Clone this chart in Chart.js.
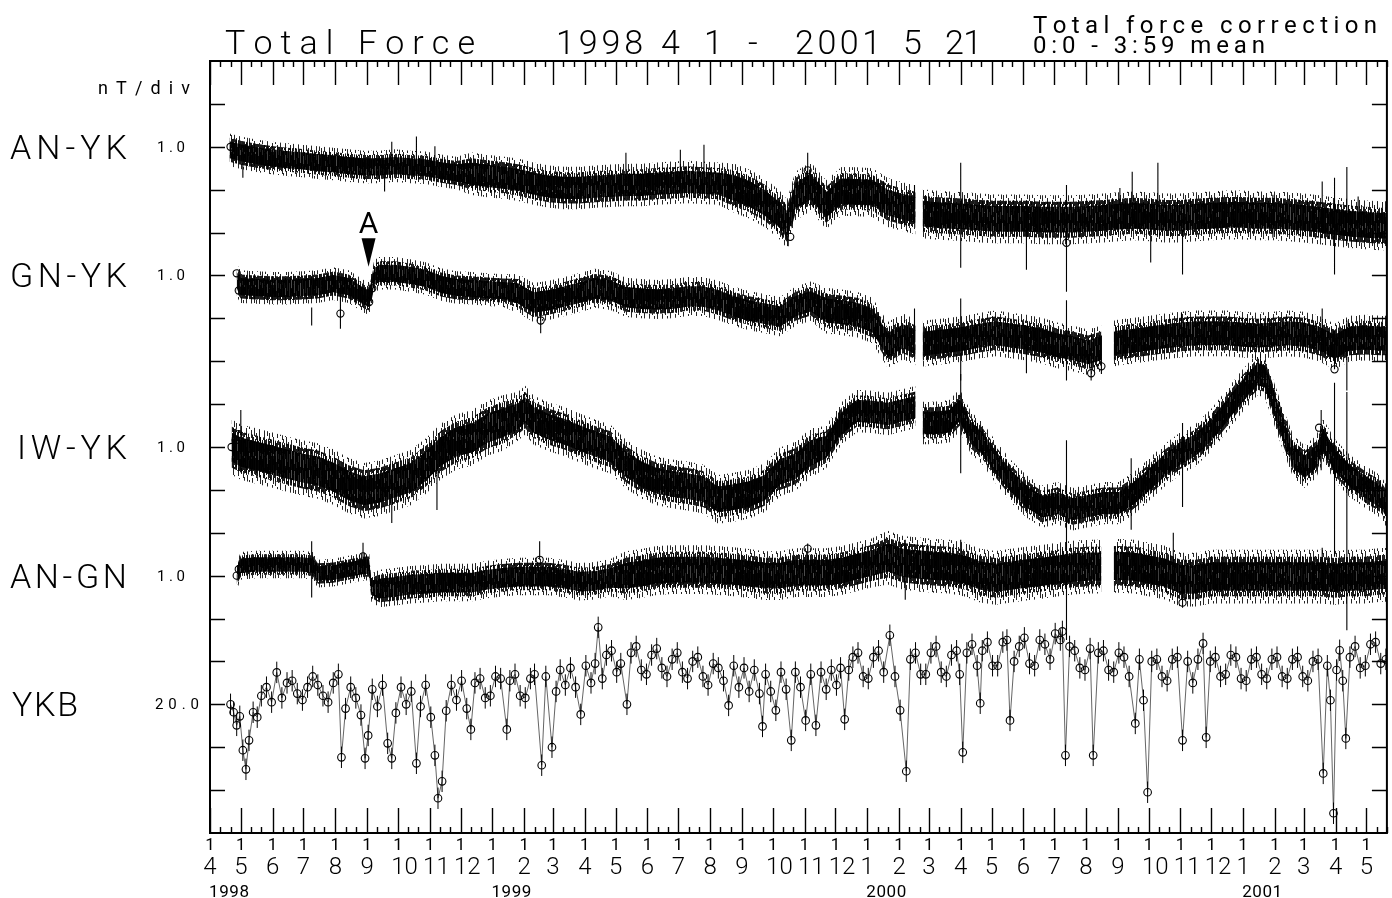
<!DOCTYPE html>
<html><head><meta charset="utf-8">
<script src="https://cdn.jsdelivr.net/npm/chart.js@4/dist/chart.umd.min.js"></script>
<style>html,body{margin:0;padding:0;background:#fff;}#wrap{width:1392px;height:898px;}</style>
</head><body><div id="wrap"><canvas id="c" width="1392" height="898"></canvas></div>
<script>
// ---- time axis (days since 1998-04-01) ----
const START = Date.UTC(1998, 3, 1);
function dayOf(y, m, d) { return Math.round((Date.UTC(y, m - 1, d) - START) / 86400000); }
const X_MAX = dayOf(2001, 5, 21);

const monthTicks = [], monthLabels = [], minorTicks = [];
for (let y = 1998, m = 4; y < 2001 || (y === 2001 && m <= 5); ) {
  monthTicks.push(dayOf(y, m, 1)); monthLabels.push(String(m));
  [11, 21].forEach(dd => { const v = dayOf(y, m, dd); if (v <= X_MAX) minorTicks.push(v); });
  m++; if (m > 12) { m = 1; y++; }
}
const yearLabels = ['1998', '1999', '2000', '2001'];
const yearDays = [0, dayOf(1999, 1, 1), dayOf(2000, 1, 1), dayOf(2001, 1, 1)];

// ---- series: [day, value] ; values in nT (1.0 nT/div for differences, 20 nT/div for YKB) ----
const anykData = [[19,-0.07],[30,-0.14],[45,-0.21],[60,-0.26],[75,-0.30],[90,-0.33],[105,-0.37],[120,-0.40],[135,-0.44],[150,-0.47],[165,-0.47],[180,-0.44],[195,-0.47],[210,-0.49],[225,-0.56],[240,-0.61],[255,-0.63],[270,-0.68],[285,-0.72],[300,-0.77],[315,-0.86],[330,-0.93],[345,-0.96],[360,-0.96],[375,-0.93],[390,-0.91],[405,-0.89],[420,-0.89],[435,-0.86],[450,-0.84],[465,-0.82],[480,-0.84],[495,-0.86],[510,-0.96],[525,-1.10],[540,-1.30],[555,-1.60],[562,-1.80],[570,-1.15],[585,-0.93],[600,-1.35],[615,-1.04],[630,-1.05],[645,-1.07],[660,-1.30],[675,-1.40],[687,-1.47],[690,null],[694,-1.56],[705,-1.59],[720,-1.61],[735,-1.63],[750,-1.66],[765,-1.68],[780,-1.68],[795,-1.68],[810,-1.70],[825,-1.70],[840,-1.70],[855,-1.68],[870,-1.66],[885,-1.63],[900,-1.61],[915,-1.63],[930,-1.66],[945,-1.66],[960,-1.63],[975,-1.61],[990,-1.59],[1005,-1.59],[1020,-1.61],[1035,-1.61],[1050,-1.63],[1065,-1.66],[1080,-1.70],[1095,-1.75],[1110,-1.79],[1125,-1.82],[1140,-1.84],[1146,-1.84]];
const gnykData = [[26,-0.12],[30,-0.26],[45,-0.28],[60,-0.30],[75,-0.30],[90,-0.28],[105,-0.26],[120,-0.19],[135,-0.26],[150,-0.49],[155,-0.54],[160,-0.02],[165,0.05],[180,0.05],[195,0.0],[210,-0.07],[225,-0.21],[240,-0.28],[255,-0.30],[270,-0.33],[285,-0.35],[300,-0.42],[315,-0.63],[330,-0.58],[345,-0.49],[360,-0.40],[375,-0.30],[390,-0.35],[405,-0.51],[420,-0.54],[435,-0.56],[450,-0.54],[465,-0.49],[480,-0.49],[495,-0.58],[510,-0.72],[525,-0.82],[540,-0.89],[555,-0.96],[570,-0.72],[585,-0.60],[600,-0.82],[615,-0.86],[630,-0.91],[645,-1.05],[660,-1.62],[675,-1.42],[687,-1.56],[690,null],[694,-1.59],[705,-1.56],[720,-1.52],[735,-1.47],[750,-1.40],[765,-1.35],[780,-1.40],[795,-1.45],[810,-1.52],[825,-1.63],[840,-1.70],[855,-1.79],[868,-1.70],[874,null],[880,-1.59],[885,-1.56],[900,-1.52],[915,-1.47],[930,-1.42],[945,-1.38],[960,-1.35],[975,-1.35],[990,-1.35],[1005,-1.38],[1020,-1.40],[1035,-1.38],[1050,-1.35],[1065,-1.38],[1080,-1.47],[1095,-1.66],[1110,-1.47],[1125,-1.45],[1140,-1.47],[1146,-1.47]];
const iwykData = [[21,0.0],[30,-0.12],[45,-0.21],[60,-0.30],[75,-0.40],[90,-0.49],[105,-0.56],[120,-0.70],[135,-0.90],[150,-1.02],[165,-0.96],[180,-0.84],[195,-0.72],[210,-0.45],[225,-0.10],[240,0.12],[255,0.21],[270,0.44],[285,0.56],[300,0.72],[307,0.86],[315,0.63],[330,0.47],[345,0.36],[360,0.21],[375,0.07],[390,-0.05],[405,-0.40],[420,-0.63],[435,-0.79],[450,-0.86],[465,-0.91],[480,-0.98],[495,-1.22],[510,-1.17],[525,-1.10],[540,-0.95],[555,-0.58],[570,-0.45],[585,-0.14],[600,0.0],[615,0.55],[630,0.84],[645,0.82],[660,0.77],[675,0.86],[687,0.93],[690,null],[694,0.56],[705,0.56],[720,0.60],[730,0.86],[741,0.33],[752,0.09],[765,-0.35],[780,-0.80],[795,-1.15],[810,-1.39],[825,-1.31],[840,-1.45],[855,-1.38],[870,-1.31],[885,-1.31],[900,-1.07],[915,-0.75],[930,-0.42],[945,-0.15],[960,0.05],[975,0.40],[990,0.84],[1005,1.30],[1020,1.70],[1027,1.65],[1035,1.10],[1045,0.40],[1055,-0.23],[1066,-0.46],[1077,-0.23],[1084,0.16],[1095,-0.30],[1110,-0.68],[1125,-0.93],[1140,-1.16],[1146,-1.39]];
const angnData = [[26,0.0],[30,0.23],[45,0.26],[60,0.26],[75,0.26],[90,0.26],[100,0.23],[105,0.05],[120,0.07],[135,0.14],[150,0.21],[155,0.21],[157,-0.28],[165,-0.30],[180,-0.26],[195,-0.21],[210,-0.19],[225,-0.16],[240,-0.16],[255,-0.16],[270,-0.09],[285,-0.05],[300,-0.02],[315,-0.02],[330,-0.02],[345,-0.07],[360,-0.14],[375,-0.12],[390,-0.05],[405,0.0],[420,0.05],[435,0.12],[450,0.14],[465,0.14],[480,0.14],[495,0.12],[510,0.09],[525,0.05],[540,0.0],[555,0.0],[570,0.07],[585,0.07],[600,0.07],[615,0.12],[630,0.21],[645,0.30],[660,0.42],[675,0.30],[690,0.26],[705,0.23],[720,0.21],[735,0.14],[750,0.0],[765,-0.05],[780,0.0],[795,0.05],[810,0.09],[825,0.14],[840,0.19],[855,0.21],[868,0.21],[874,null],[880,0.23],[885,0.23],[900,0.21],[915,0.14],[930,0.07],[945,-0.09],[960,-0.09],[975,-0.02],[990,-0.02],[1005,-0.02],[1020,-0.02],[1035,-0.02],[1050,-0.02],[1065,-0.02],[1080,-0.02],[1095,-0.05],[1110,-0.02],[1125,-0.02],[1140,0.02],[1146,0.02]];
const ykbData = [[20,0],[23,-3.7],[26,-9.8],[29,-5.6],[32,-21.4],[35,-30.3],[38,-16.8],[42,-3.7],[46,-6],[50,4],[55,8],[60,1],[65,14.9],[70,3],[75,10],[80,11],[85,5],[90,2],[95,8],[100,13],[105,9],[110,4],[115,1],[120,10],[125,14],[128,-24.7],[132,-2],[137,8],[142,3],[147,-5],[151,-25.2],[154,-14.5],[158,7],[163,-1],[168,9],[173,-18.2],[177,-25.2],[181,-4],[186,8],[191,0],[196,6],[201,-27.5],[205,-1],[210,9],[215,-6],[219,-23.8],[222,-43.8],[226,-35.9],[230,-3],[235,9],[240,2],[245,11],[250,-2],[254,-11.7],[258,10],[263,12],[268,3],[273,4],[278,13],[283,12],[289,-11.7],[292,11],[297,14],[302,4],[307,3],[312,12],[316,14],[323,-28.4],[327,13],[333,-20.0],[337,6],[341,16],[346,9],[351,17],[356,8],[361,-4.7],[366,18],[371,10],[375,19],[378,35.9],[382,12],[386,23],[391,25],[396,15],[400,19],[406,0],[410,24],[415,27],[420,16],[425,14],[430,23],[435,26],[440,17],[445,13],[450,21],[455,24],[460,15],[465,12],[470,20],[475,22],[480,13],[485,9],[490,19],[495,17],[500,11],[505,-0.5],[510,18],[515,8],[520,17],[525,6],[530,16],[535,5],[538,-10.3],[541,14],[546,6],[551,-2.8],[556,15],[561,7],[566,-16.8],[570,15],[575,8],[580,-7.5],[585,14],[590,-9.8],[595,15],[600,7],[605,16],[610,9],[614,17],[618,-7.0],[622,16],[626,22],[631,24],[636,13],[641,12],[646,22],[651,25],[656,15],[662,32.2],[667,13],[672,-2.8],[678,-31.2],[682,21],[687,24],[692,14],[697,14],[702,24],[707,27],[712,15],[717,13],[722,23],[727,25],[730,14],[733,-22.4],[737,24],[742,28],[747,18],[750,0.5],[752,25],[757,29],[762,18],[767,18],[772,29],[776,30],[779,-7.5],[783,20],[788,27],[793,31],[798,19],[803,18],[808,30],[813,28],[818,21],[823,33],[828,30],[830,34],[833,-23.8],[837,27],[842,25],[847,17],[852,16],[857,26],[860,-23.8],[865,24],[870,25],[875,16],[880,15],[885,24],[890,22],[895,13],[901,-8.9],[905,21],[909,1.9],[913,-41.0],[917,20],[922,21],[927,13],[932,11],[937,21],[942,22],[947,-16.8],[952,20],[957,10],[962,21],[967,28.4],[970,-15.4],[974,20],[979,22],[984,13],[989,14],[994,23],[999,22],[1004,12],[1009,11],[1014,21],[1019,22],[1024,14],[1029,12],[1034,21],[1039,22],[1044,13],[1049,12],[1054,21],[1059,22],[1064,13],[1069,11],[1074,20],[1079,21],[1084,-32.2],[1088,18],[1091,1.9],[1094,-50.8],[1097,16],[1100,25.2],[1103,11],[1106,-15.9],[1110,22],[1115,27],[1120,17],[1125,18],[1130,28],[1135,29],[1140,19],[1145,21]];
const YKB_ERR = 5; // nT, typical error bar half-length

// noise amplitude (half-width of the dense band), [from day, nT]
const anykNoise = [[0,0.2],[250,0.26],[500,0.3]];
const gnykNoise = [[0,0.2],[300,0.24],[600,0.28]];
const iwykNoise = [[0,0.34],[300,0.3],[600,0.26]];
const angnNoise = [[0,0.17],[160,0.23],[400,0.3],[650,0.33]];

// isolated spikes [day, low, high] and circled points [day, value]
const anykSpikes = [[32,-0.72,-0.37],[170,-1.04,-0.58],[177,-0.42,0.12],[201,-0.30,0.24],[219,-0.54,0.01],[405,-0.93,-0.14],[458,-0.93,-0.07],[481,-1.0,0.05],[563,-2.32,-1.5],[582,-0.80,-0.14],[656,-1.4,-0.93],[686,-1.3,-0.89],[731,-2.82,-0.37],[795,-2.87,-1.4],[834,-3.38,-0.89],[886,-1.5,-0.96],[898,-1.59,-0.58],[916,-2.7,-1.6],[923,-1.52,-0.37],[947,-2.98,-1.93],[1035,-2.12,-1.12],[1083,-2.0,-0.81],[1095,-2.98,-0.72],[1107,-2.28,-0.47],[1118,-1.9,-1.16]];
const gnykSpikes = [[99,-1.17,-0.75],[127,-1.24,-0.28],[322,-1.35,-0.70],[686,-1.5,-0.77],[731,-2.45,-0.54],[795,-2.28,-1.5],[834,-2.45,-0.58],[858,-2.45,-1.8],[868,-2.3,-1.4],[946,-1.4,-0.86],[1083,-1.4,-0.77],[1095,-2.19,-1.28],[1107,-2.68,-1.05]];
const iwykSpikes = [[30,-0.54,0.86],[177,-1.77,-1.07],[221,-1.47,-0.07],[731,-0.61,1.70],[834,-4.50,0.16],[897,-1.93,-0.26],[947,-1.40,0.56],[1082,-0.54,0.86],[1095,-2.56,1.50],[1107,-4.27,1.28]];
const angnSpikes = [[99,-0.51,0.80],[149,0.37,0.77],[321,0.37,0.80],[582,0.1,0.75],[677,-0.56,0.84],[731,-0.3,0.84],[938,-0.2,1.0],[947,-0.75,0.37],[1083,-0.2,0.65]];
const anykMarks = [[20,0.0],[560,-1.95],[565,-2.1],[582,-0.55],[834,-2.24]];
const gnykMarks = [[26,0.05],[28,-0.35],[127,-0.89],[155,-0.62],[158,-0.3],[322,-1.05],[858,-2.28],[868,-2.12],[1095,-2.19]];
const iwykMarks = [[21,0.0],[25,0.16],[28,0.30],[1025,1.65],[1030,1.5],[1038,1.0],[1045,0.55],[1052,-0.1],[1062,-0.5],[1080,0.45],[1124,-0.95],[1130,-0.75]];
const angnMarks = [[26,0.0],[28,0.15],[149,0.45],[321,0.37],[582,0.63],[947,-0.63]];

// ---- labels ----
const stationNames = ['AN-YK', 'GN-YK', 'IW-YK', 'AN-GN', 'YKB'];
const scaleLabels = ['1.0', '1.0', '1.0', '1.0', '20.0'];

// ---- layout and style (not data) ----
const LEVELS = [16, 13, 9, 6, 3];      // axis position of each trace's reference level
const DIV = [1, 1, 1, 1, 20];          // nT per division
const Y_DIVS = 18;

function noiseAt(tbl, d) { let n = tbl[0][1]; for (const [dd, v] of tbl) if (d >= dd) n = v; return n; }
function segs(list, base, sc) {
  const out = [];
  list.forEach(([d, lo, hi]) => out.push({x: d, y: base + lo / sc}, {x: d, y: base + hi / sc}, {x: d, y: null}));
  return out;
}
// vertical-stroke textures used to render the dense noisy bands
function stripes(alphas) {
  const c = document.createElement('canvas'); c.width = alphas.length; c.height = 1;
  const g = c.getContext('2d');
  alphas.forEach((a, i) => { g.fillStyle = `rgba(0,0,0,${a})`; g.fillRect(i, 0, 1, 1); });
  return g.createPattern(c, 'repeat');
}
function strokes(cols, h, alpha) {
  const c = document.createElement('canvas'); c.width = cols.length; c.height = h;
  const g = c.getContext('2d'); g.fillStyle = `rgba(0,0,0,${alpha})`;
  cols.forEach(([s, l], i) => { for (let k = 0; k < l; k++) g.fillRect(i, (s + k) % h, 1, 1); });
  return g.createPattern(c, 'repeat');
}
const coreFill = stripes([1, 0.85, 1, 0.7, 1, 0.95, 0.75, 1, 0.9]);
const midFill = strokes([[0,15],[6,8],[2,17],[11,6],[0,19],[4,10],[14,9],[0,16],[8,7],[3,14],[12,10]], 19, 0.9);
const outFill = strokes([[0,9],[0,0],[5,6],[0,0],[12,8],[3,5],[0,0],[8,10],[0,0],[15,7],[2,4],[0,0],[10,9]], 19, 0.85);

const bands = [
  {data: anykData, noise: anykNoise, spikes: anykSpikes, marks: anykMarks},
  {data: gnykData, noise: gnykNoise, spikes: gnykSpikes, marks: gnykMarks},
  {data: iwykData, noise: iwykNoise, spikes: iwykSpikes, marks: iwykMarks},
  {data: angnData, noise: angnNoise, spikes: angnSpikes, marks: angnMarks},
];
const datasets = [];
bands.forEach((s, i) => {
  const base = LEVELS[i], sc = DIV[i];
  const pts = k => s.data.map(([d, v]) => ({x: d, y: v === null ? null : base + (v + k * noiseAt(s.noise, d)) / sc}));
  const edge = {borderWidth: 0, pointRadius: 0, spanGaps: false};
  datasets.push({...edge, data: pts(1.9), fill: false});
  datasets.push({...edge, data: pts(-1.9), fill: '-1', backgroundColor: outFill});
  datasets.push({...edge, data: pts(1.4), fill: false});
  datasets.push({...edge, data: pts(-1.4), fill: '-1', backgroundColor: midFill});
  datasets.push({...edge, data: pts(1), fill: false});
  datasets.push({...edge, data: pts(-1), fill: '-1', backgroundColor: coreFill});
  datasets.push({data: segs(s.spikes, base, sc), borderWidth: 1.1, borderColor: '#000', pointRadius: 0, fill: false, spanGaps: false});
  datasets.push({data: s.marks.map(([d, v]) => ({x: d, y: base + v / sc})), showLine: false, pointRadius: 3.6,
    pointBorderWidth: 1.1, pointBorderColor: '#000', pointBackgroundColor: 'rgba(0,0,0,0)'});
});
// YKB: error bars + connected circles
datasets.push({data: segs(ykbData.map(([d, v]) => [d, v - YKB_ERR, v + YKB_ERR]), LEVELS[4], DIV[4]),
  borderWidth: 1, borderColor: '#000', pointRadius: 0, fill: false, spanGaps: false});
datasets.push({data: ykbData.map(([d, v]) => ({x: d, y: LEVELS[4] + v / DIV[4]})), borderWidth: 0.7, borderColor: '#222',
  fill: false, pointRadius: 3.8, pointBorderWidth: 1.1, pointBorderColor: '#000', pointBackgroundColor: 'rgba(255,255,255,0)'});

const FONT = 'Roboto, "DejaVu Sans", sans-serif';
function txt(ctx, s, x, y, size, width, weight) {
  ctx.font = `${weight || 300} ${size}px ${FONT}`;
  ctx.textAlign = 'left'; ctx.textBaseline = 'alphabetic';
  const chars = [...s];
  const ws = chars.map(c => ctx.measureText(c).width);
  const total = ws.reduce((a, b) => a + b, 0);
  const ls = (width && chars.length > 1) ? (width - total) / (chars.length - 1) : 0;
  let cx = x;
  chars.forEach((c, i) => { ctx.fillText(c, cx, y); cx += ws[i] + ls; });
}

const decor = {
  id: 'decor',
  afterDraw(chart) {
    const {ctx, chartArea: a, scales: {x, y}} = chart;
    ctx.save();
    ctx.strokeStyle = '#000'; ctx.fillStyle = '#000';
    ctx.lineWidth = 2;
    ctx.strokeRect(a.left, a.top, a.right - a.left, a.bottom - a.top);
    ctx.lineWidth = 1.4;
    ctx.beginPath();
    monthTicks.forEach(d => {
      const px = Math.round(x.getPixelForValue(d)) + 0.5;
      ctx.moveTo(px, a.bottom); ctx.lineTo(px, a.bottom - 25);
      ctx.moveTo(px, a.top); ctx.lineTo(px, a.top + 24);
    });
    minorTicks.forEach(d => {
      const px = Math.round(x.getPixelForValue(d)) + 0.5;
      ctx.moveTo(px, a.bottom); ctx.lineTo(px, a.bottom - 6);
      ctx.moveTo(px, a.top); ctx.lineTo(px, a.top + 6);
    });
    for (let k = 1; k < Y_DIVS; k++) {
      const py = Math.round(y.getPixelForValue(k)) + 0.5;
      ctx.moveTo(a.left, py); ctx.lineTo(a.left + 15, py);
      ctx.moveTo(a.right, py); ctx.lineTo(a.right - 15, py);
    }
    ctx.stroke();

    // bottom tick labels
    monthTicks.forEach((d, i) => {
      const px = x.getPixelForValue(d);
      ctx.font = `400 17px ${FONT}`; ctx.textAlign = 'center'; ctx.textBaseline = 'alphabetic';
      ctx.fillText('1', px, a.bottom + 17);
      ctx.font = `300 24px ${FONT}`; ctx.textAlign = 'left';
      const lab = monthLabels[i];
      const w0 = ctx.measureText(lab[0]).width;
      ctx.fillText(lab, px - w0 / 2, a.bottom + 41);
    });
    yearLabels.forEach((lab, i) => txt(ctx, lab, x.getPixelForValue(yearDays[i]) - 1, a.bottom + 64, 17, 40, 400));

    // left labels
    stationNames.forEach((nm, i) => {
      const py = y.getPixelForValue(LEVELS[i]);
      const w = nm === 'YKB' ? 66 : (nm === 'IW-YK' ? 110 : 117);
      txt(ctx, nm, nm === 'IW-YK' ? 17 : (nm === 'YKB' ? 12 : 10), py + 12, 34, w, 300);
      const long = scaleLabels[i].length > 3;
      txt(ctx, scaleLabels[i], long ? 155 : 157, py + 5, 15, long ? 44 : 28, 400);
    });
    txt(ctx, 'nT/div', 98, a.top + 33, 18, 92, 400);

    // titles
    txt(ctx, 'Total Force', 225, a.top - 7, 34, 250, 300);
    [['1998', 556, 87], ['4', 661, 0], ['1', 704, 0], ['-', 748, 18], ['2001', 795, 86], ['5', 903, 0], ['21', 945, 37]]
      .forEach(([s, px, w]) => txt(ctx, s, px, a.top - 7, 34, w || null, 300));
    txt(ctx, 'Total force correction', 1033, 33, 24, 344, 400);
    txt(ctx, '0:0 - 3:59 mean', 1033, 53, 24, 232, 400);

    // annotation "A" with arrowhead (event marker on GN-YK)
    const ax = x.getPixelForValue(154.4);
    const yText = y.getPixelForValue(13.99), yTop = y.getPixelForValue(13.87), yTip = y.getPixelForValue(13.2);
    ctx.font = `400 30px ${FONT}`; ctx.textAlign = 'center';
    ctx.fillText('A', ax, yText);
    ctx.beginPath(); ctx.moveTo(ax - 7, yTop); ctx.lineTo(ax + 7, yTop); ctx.lineTo(ax, yTip); ctx.closePath(); ctx.fill();
    ctx.restore();
  }
};

new Chart(document.getElementById('c'), {
  type: 'line',
  data: {datasets},
  options: {
    responsive: false, animation: false, devicePixelRatio: 1, events: [],
    layout: {padding: {left: 210, top: 61, right: 2, bottom: 65}},
    elements: {line: {tension: 0}},
    plugins: {legend: {display: false}, tooltip: {enabled: false}, title: {display: false}},
    scales: {
      x: {type: 'linear', min: 0, max: X_MAX, display: false},
      y: {type: 'linear', min: 0, max: Y_DIVS, display: false}
    }
  },
  plugins: [decor]
});
</script></body></html>
